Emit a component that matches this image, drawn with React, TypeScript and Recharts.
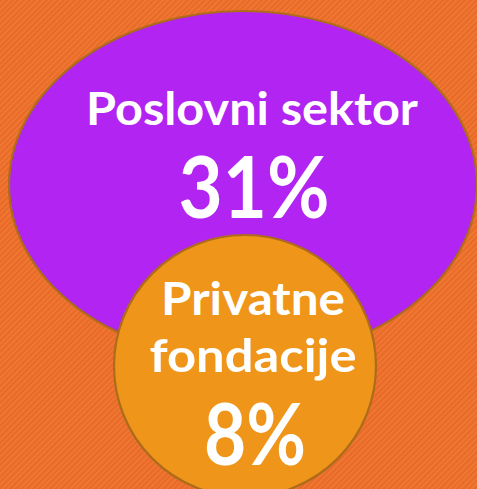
import React from "react";
import { ScatterChart, Scatter, XAxis, YAxis } from "recharts";

const categories = ["Poslovni sektor", "Privatne fondacije"];
const shares = [31, 8];
const labelLines = [["Poslovni sektor"], ["Privatne", "fondacije"]];

const W = 477;
const H = 489;

// layout / style (not data)
const shapes = [
  { x: 243, y: 185, rx: 234, ry: 174, fill: "#B124F2", lineOffsets: [-60], valueOffset: 33, dx: 9, lineLens: [332], valueLen: 151 },
  { x: 245, y: 366, rx: 131, ry: 131, fill: "#EF951A", lineOffsets: [-51, 6], valueOffset: 99, dx: 8, lineLens: [184, 207], valueLen: 102 },
];

const data = categories.map((c, i) => ({
  name: c,
  value: shares[i],
  lines: labelLines[i],
  x: shapes[i].x,
  y: shapes[i].y,
  idx: i,
}));

const FONT = "Lato, 'Open Sans', sans-serif";

const Bubble = (props: any) => {
  const { cx, cy, payload } = props;
  const s = shapes[payload.idx];
  return (
    <g>
      <ellipse cx={cx} cy={cy} rx={s.rx} ry={s.ry} fill={s.fill} stroke="#AD6C1A" strokeWidth={2.2} />
      {payload.lines.map((ln: string, j: number) => (
        <text
          key={j}
          x={cx + s.dx}
          y={cy + s.lineOffsets[j]}
          textAnchor="middle"
          fill="#FFFFFF"
          fontFamily={FONT}
          fontWeight={700}
          fontSize={46}
          textLength={s.lineLens[j]}
          lengthAdjust="spacingAndGlyphs"
        >
          {ln}
        </text>
      ))}
      <text
        x={cx + s.dx + 2}
        y={cy + s.valueOffset}
        textAnchor="middle"
        fill="#FFFFFF"
        fontFamily={FONT}
        fontWeight={700}
        fontSize={87}
        textLength={s.valueLen}
        lengthAdjust="spacingAndGlyphs"
      >
        {`${payload.value}%`}
      </text>
    </g>
  );
};

export default function App() {
  return (
    <div
      style={{
        position: "absolute",
        left: 0,
        top: 0,
        width: W,
        height: H,
        overflow: "hidden",
        background:
          "repeating-linear-gradient(135deg, #E96A29 0px, #E96A29 2px, #ED7631 2px, #ED7631 4px)",
      }}
    >
      <ScatterChart width={W} height={H} margin={{ top: 0, right: 0, bottom: 0, left: 0 }}>
        <XAxis type="number" dataKey="x" domain={[0, W]} hide />
        <YAxis type="number" dataKey="y" domain={[0, H]} reversed hide />
        <Scatter data={data} shape={Bubble} isAnimationActive={false} />
      </ScatterChart>
    </div>
  );
}
